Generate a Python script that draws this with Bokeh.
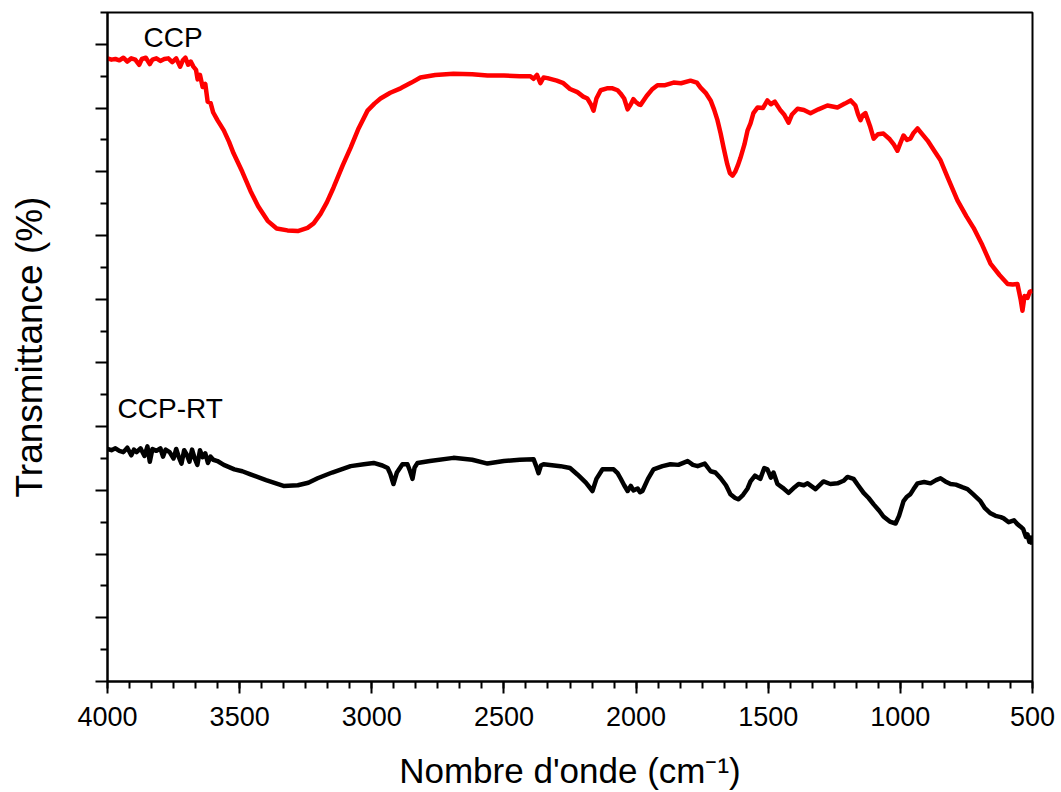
from bokeh.plotting import figure
from bokeh.models import Range1d, FixedTicker, Label
from bokeh.embed import file_html
from bokeh.resources import INLINE

# ---- data ----
ccp_wn = [4000, 3985, 3970, 3955, 3940, 3925, 3910, 3895, 3880, 3870, 3855, 3840, 3830, 3815, 3800,
          3785, 3770, 3755, 3740, 3725, 3715, 3705, 3695, 3685, 3675, 3665, 3659, 3650, 3640, 3630,
          3621, 3610, 3600, 3584, 3560, 3540, 3523, 3490, 3459, 3430, 3394, 3360, 3319, 3280, 3243,
          3220, 3194, 3170, 3145, 3110, 3080, 3050, 3016, 2990, 2967, 2930, 2891, 2850, 2816, 2760,
          2691, 2620, 2562, 2500, 2440, 2400, 2388, 2375, 2362, 2350, 2335, 2300, 2275, 2250, 2222,
          2200, 2184, 2170, 2161, 2150, 2134, 2110, 2089, 2070, 2059, 2045, 2032, 2020, 2010, 2002,
          1990, 1983, 1960, 1940, 1919, 1890, 1858, 1830, 1794, 1770, 1756, 1735, 1718, 1705, 1692,
          1680, 1669, 1655, 1645, 1635, 1625, 1615, 1605, 1590, 1578, 1567, 1556, 1540, 1520, 1503,
          1490, 1475, 1453, 1440, 1423, 1410, 1389, 1365, 1340, 1310, 1276, 1238, 1210, 1188, 1170,
          1160, 1151, 1142, 1132, 1115, 1101, 1085, 1064, 1040, 1025, 1011, 1000, 988, 975, 962,
          950, 935, 915, 897, 870, 848, 820, 784, 750, 723, 690, 659, 625, 594, 575,
          557, 545, 538, 530, 519, 510, 500]
ccp_t = [97.8, 97.6, 97.7, 97.5, 97.9, 97.3, 97.8, 97.6, 96.8, 97.7, 97.9, 96.9, 97.6, 97.8, 97.4,
         97.7, 97.8, 97.2, 97.8, 96.5, 97.5, 97.9, 96.8, 97.3, 96.5, 96.0, 94.5, 95.2, 93.3, 93.8,
         91.0, 90.8, 89.3, 88.1, 86.5, 84.7, 82.9, 80.0, 77.0, 74.6, 72.3, 71.1, 70.8, 70.7, 71.2,
         71.9, 73.4, 75.2, 77.5, 81.0, 83.8, 86.8, 89.6, 90.7, 91.5, 92.4, 93.1, 94.0, 94.8, 95.2,
         95.4, 95.3, 95.1, 95.1, 95.0, 95.0, 94.6, 95.2, 93.9, 94.8, 94.7, 94.3, 93.9, 93.0, 92.5,
         91.8, 91.5, 90.5, 89.6, 91.5, 92.8, 93.1, 93.1, 92.8, 92.3, 91.5, 89.8, 90.6, 91.4, 91.0,
         90.6, 90.5, 91.9, 92.9, 93.6, 93.6, 94.0, 93.9, 94.3, 94.0, 93.2, 92.3, 91.2, 89.8, 88.1,
         86.0, 83.8, 81.2, 79.8, 79.4, 80.0, 81.0, 82.2, 84.3, 86.5, 87.6, 89.2, 90.1, 90.0, 91.2,
         90.6, 91.0, 89.6, 89.0, 87.7, 89.0, 89.9, 89.7, 89.2, 89.8, 90.4, 90.1, 90.7, 91.2, 90.4,
         89.0, 88.1, 88.9, 89.2, 87.2, 85.2, 85.9, 86.0, 85.1, 84.3, 83.3, 84.5, 85.7, 85.0, 85.2,
         86.1, 86.8, 85.8, 84.9, 83.2, 81.8, 79.0, 75.5, 73.0, 71.2, 68.5, 65.6, 63.8, 62.4, 62.3,
         62.4, 60.0, 58.2, 60.5, 60.2, 61.2, 61.3]

rt_wn = [4000, 3985, 3970, 3955, 3940, 3925, 3910, 3900, 3890, 3875, 3860, 3849, 3840, 3830, 3815,
         3800, 3790, 3780, 3765, 3750, 3740, 3730, 3720, 3710, 3700, 3690, 3680, 3670, 3660, 3650,
         3640, 3630, 3620, 3610, 3600, 3584, 3560, 3520, 3490, 3459, 3400, 3334, 3280, 3240, 3205,
         3150, 3080, 3030, 2993, 2960, 2940, 2930, 2918, 2905, 2884, 2865, 2855, 2846, 2838, 2827,
         2780, 2691, 2620, 2562, 2500, 2440, 2388, 2378, 2369, 2360, 2350, 2286, 2250, 2222, 2190,
         2165, 2150, 2127, 2085, 2070, 2059, 2045, 2032, 2020, 2010, 1994, 1985, 1976, 1955, 1934,
         1900, 1870, 1840, 1805, 1785, 1767, 1740, 1718, 1700, 1680, 1660, 1643, 1625, 1612, 1595,
         1578, 1567, 1550, 1530, 1515, 1503, 1490, 1480, 1465, 1445, 1423, 1400, 1385, 1365, 1351,
         1321, 1291, 1265, 1238, 1215, 1200, 1177, 1160, 1139, 1120, 1101, 1080, 1064, 1040, 1018,
         1005, 988, 975, 962, 950, 935, 910, 886, 865, 848, 830, 810, 790, 766, 746,
         725, 697, 680, 659, 640, 620, 609, 590, 570, 557, 545, 535, 525, 519, 512,
         505, 500]
rt_t = [36.5, 36.3, 36.6, 36.2, 36.0, 36.7, 35.5, 36.4, 36.0, 36.6, 35.4, 36.9, 34.5, 36.5, 36.2,
        36.6, 35.3, 36.4, 36.0, 35.0, 36.5, 35.2, 34.2, 36.3, 35.6, 34.5, 36.4, 35.0, 34.0, 36.3,
        35.2, 35.8, 34.3, 35.3, 34.8, 34.6, 34.0, 33.3, 33.0, 32.5, 31.6, 30.7, 30.8, 31.2, 31.9,
        32.8, 33.8, 34.1, 34.3, 33.9, 33.5, 32.6, 31.0, 32.8, 34.1, 34.1, 33.0, 31.8, 33.6, 34.3,
        34.6, 35.1, 34.8, 34.2, 34.6, 34.8, 34.9, 33.8, 32.7, 33.9, 34.1, 33.8, 33.5, 32.5, 31.2,
        29.9, 31.8, 33.3, 33.3, 32.7, 31.9, 30.8, 29.9, 30.7, 30.0, 30.3, 29.7, 29.9, 31.8, 33.3,
        33.8, 34.1, 34.0, 34.6, 34.0, 33.8, 34.2, 33.0, 32.8, 31.9, 30.8, 29.4, 28.8, 28.6, 29.3,
        30.3, 31.4, 32.3, 31.8, 33.5, 33.3, 32.0, 32.8, 31.0, 30.4, 29.6, 30.5, 31.0, 30.8, 31.1,
        30.2, 31.4, 31.0, 31.1, 31.5, 32.1, 31.8, 30.8, 29.6, 28.8, 27.8, 26.8, 25.9, 25.1, 24.8,
        26.0, 28.3, 29.0, 29.4, 30.2, 31.1, 31.3, 31.1, 31.6, 31.9, 31.4, 31.0, 30.9, 30.5, 30.2,
        29.4, 28.3, 27.2, 26.4, 26.0, 25.8, 25.6, 25.0, 25.3, 24.7, 24.3, 23.9, 22.7, 23.1, 21.9,
        22.6, 21.5]

x_ticks = [4000, 3500, 3000, 2500, 2000, 1500, 1000, 500]
y_ticks = [0, 10, 20, 30, 40, 50, 60, 70, 80, 90, 100]

FONT = "Liberation Sans"

p = figure(width=1061, height=792, output_backend="svg", toolbar_location=None,
           x_range=Range1d(4000, 500), y_range=Range1d(0, 105),
           min_border_left=107, min_border_right=29, min_border_top=12, min_border_bottom=111)
p.grid.visible = False
p.background_fill_color = "white"
p.border_fill_color = "white"
p.outline_line_color = "black"
p.outline_line_width = 2

p.line(ccp_wn, ccp_t, line_color="#ff0000", line_width=4.5, line_join="round")
p.line(rt_wn, rt_t, line_color="black", line_width=4.5, line_join="round")

x_minor = [500 + k * 500 / 6 for k in range(43)]
p.xaxis.ticker = FixedTicker(ticks=x_ticks, minor_ticks=x_minor)
y_minor = [5 + 10 * k for k in range(11)]
p.yaxis.ticker = FixedTicker(ticks=y_ticks, minor_ticks=y_minor)

for ax in (p.xaxis[0], p.yaxis[0]):
    ax.axis_line_width = 2
    ax.major_tick_line_width = 2
    ax.minor_tick_line_width = 2
    ax.major_tick_in = 0
    ax.minor_tick_in = 0
    ax.major_tick_out = 12
    ax.minor_tick_out = 7
    ax.axis_label_text_font = FONT
    ax.axis_label_text_font_style = "normal"
    ax.axis_label_text_color = "black"
    ax.major_label_text_font = FONT
    ax.major_label_text_color = "black"

p.xaxis.major_label_text_font_size = "27px"
p.xaxis.major_label_standoff = 13
p.xaxis.axis_label = "Nombre d'onde (cm\u207b\u00b9)"
p.xaxis.axis_label_text_font_size = "35px"
p.xaxis.axis_label_standoff = 22

p.yaxis.major_label_overrides = {v: "" for v in y_ticks}
p.yaxis.major_label_text_font_size = "10px"
p.yaxis.major_label_standoff = 0
p.yaxis.axis_label = "Transmittance (%)"
p.yaxis.axis_label_text_font_size = "37px"
p.yaxis.axis_label_standoff = 46

p.add_layout(Label(x=3864, y=101.1, text="CCP", text_font=FONT, text_font_size="28px",
                   text_color="black", text_baseline="alphabetic"))
p.add_layout(Label(x=3962, y=42.8, text="CCP-RT", text_font=FONT, text_font_size="28px",
                   text_color="black", text_baseline="alphabetic"))

open("out.html", "w").write(file_html(p, INLINE))
